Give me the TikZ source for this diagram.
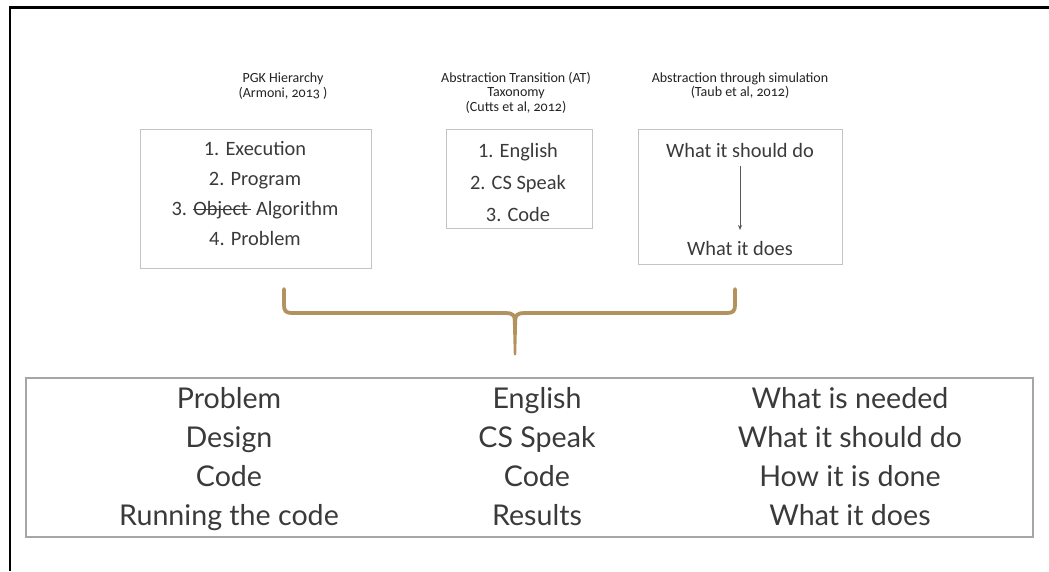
\documentclass[tikz,border=0pt]{standalone}
\usepackage{fontspec}
\setmainfont{Carlito}
\newfontfamily\titlefont[Numbers=OldStyle]{Carlito}
\newfontfamily\rowfont{Lato}
\usetikzlibrary{arrows.meta}

\definecolor{txt}{HTML}{3A3A3A}
\definecolor{titletxt}{HTML}{222222}
\definecolor{boxline}{HTML}{C4C4C4}
\definecolor{tblline}{HTML}{A6A6A6}
\definecolor{bracecol}{HTML}{B2925F}

% struck-through word: the rule runs a little past the word's end
\newsavebox\strkbox
\newcommand\strkword[1]{\sbox\strkbox{#1}%
  \rlap{\raisebox{0.27em}{\rule{\dimexpr\wd\strkbox+3pt\relax}{0.9pt}}}\usebox\strkbox}

\tikzset{
  title/.style={anchor=base, inner sep=0pt, text=titletxt, font=\titlefont\fontsize{14}{16}\selectfont},
  item/.style={anchor=base, inner sep=0pt, text=txt, font=\fontsize{20.4}{24}\selectfont},
  row/.style={anchor=base, inner sep=0pt, text=txt, font=\rowfont\fontsize{28.6}{32}\selectfont},
  panel/.style={draw=boxline, line width=1pt, inner sep=0pt},
  bracestroke/.style={draw=bracecol, line width=3.8pt, line cap=round, line join=round},
}

\begin{document}
\begin{tikzpicture}[x=1pt, y=-1pt]
\useasboundingbox (0,0) rectangle (1049,571);

% outer frame (top and left edges)
\draw[line width=2.4pt, black] (10,571) -- (10,7.5) -- (1049,7.5);

% --- three source models -------------------------------------------
\node[title] (t1a) at (283,82) {PGK Hierarchy};
\node[title] (t1b) at (283,97) {(Armoni, 2013 )};

\node[title] (t2a) at (516,82) {Abstraction Transition (AT)};
\node[title] (t2b) at (516,96.5) {Taxonomy};
\node[title] (t2c) at (516,111.5) {(Cutts et al, 2012)};

\node[title] (t3a) at (740,82) {Abstraction through simulation};
\node[title] (t3b) at (740,96.5) {(Taub et al, 2012)};

\node[panel, minimum width=231pt, minimum height=139pt] (pgk) at (255.5,198.5) {};
\node[item] (p1) at (255,155) {1. Execution};
\node[item] (p2) at (255,185) {2. Program};
\node[item] (p3) at (255,215) {3. \strkword{Object}\ \,Algorithm};
\node[item] (p4) at (255,245) {4. Problem};

\node[panel, minimum width=146pt, minimum height=99pt] (at) at (519,178.5) {};
\node[item] (a1) at (518,157) {1. English};
\node[item] (a2) at (518,189) {2. CS Speak};
\node[item] (a3) at (518,221) {3. Code};

\node[panel, minimum width=204pt, minimum height=135pt] (sim) at (740,196.5) {};
\node[item] (s1) at (740,157) {What it should do};
\node[item] (s2) at (740,255) {What it does};
\coordinate (sfrom) at (740,166);
\coordinate (sto) at (740,230);
\draw[draw=txt!85, line width=0.9pt, -{Stealth[length=5pt, width=4pt]}] (sfrom) -- (sto);

% --- brace gathering the three models -------------------------------
\coordinate (bl) at (284,289);
\coordinate (br) at (735,289);
\coordinate (bm) at (515,313);
\coordinate (bs) at (515,354);
\draw[bracestroke] (bl) -- (284,305) .. controls (284,311) and (286,313) .. (292,313)
  -- (506,313) .. controls (512,313) and (515,315) .. (515,321);
\draw[bracestroke] (br) -- (735,305) .. controls (735,311) and (733,313) .. (727,313)
  -- (524,313) .. controls (518,313) and (515,315) .. (515,321);
\fill[bracecol] (512.8,318) -- (517.2,318) -- (516.2,355) -- (513.8,355) -- cycle;

% --- combined table ---------------------------------------------------
\node[draw=tblline, line width=1.3pt, minimum width=1007pt, minimum height=159pt, inner sep=0pt] (tbl) at (529.5,457.5) {};

\node[row] (r11) at (229,408) {Problem};
\node[row] (r21) at (229,447) {Design};
\node[row] (r31) at (229,486) {Code};
\node[row] (r41) at (229,525) {Running the code};

\node[row] (r12) at (537,408) {English};
\node[row] (r22) at (537,447) {CS Speak};
\node[row] (r32) at (537,486) {Code};
\node[row] (r42) at (537,525) {Results};

\node[row] (r13) at (850,408) {What is needed};
\node[row] (r23) at (850,447) {What it should do};
\node[row] (r33) at (850,486) {How it is done};
\node[row] (r43) at (850,525) {What it does};
\end{tikzpicture}
\end{document}
